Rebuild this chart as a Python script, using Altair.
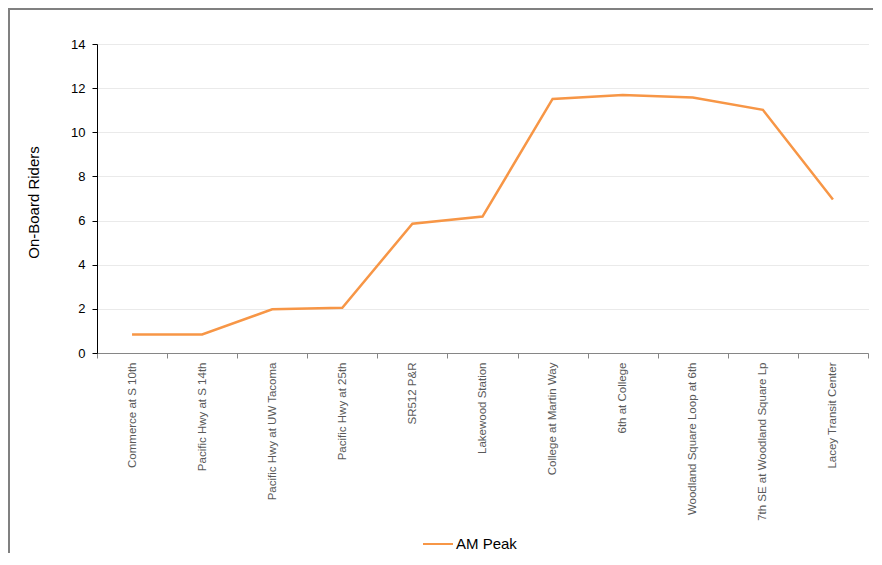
import altair as alt
import pandas as pd

stops = [
    "Commerce at S 10th",
    "Pacific Hwy at S 14th",
    "Pacific Hwy at UW Tacoma",
    "Pacific Hwy at 25th",
    "SR512 P&R",
    "Lakewood Station",
    "College at Martin Way",
    "6th at College",
    "Woodland Square Loop at 6th",
    "7th SE at Woodland Square Lp",
    "Lacey Transit Center",
]
am_peak = [0.84, 0.84, 1.98, 2.05, 5.86, 6.18, 11.51, 11.69, 11.58, 11.02, 6.95]
series_name = "AM Peak"
y_ticks = [0, 2, 4, 6, 8, 10, 12, 14]

df = pd.DataFrame({"Stop": stops, "Riders": am_peak, "Series": [series_name] * len(stops)})
one = pd.DataFrame({"k": [0]})

NARROW = "Liberation Sans Narrow, Arial Narrow, Liberation Sans, Arial"
SANS = "Liberation Sans, Arial"

line = alt.Chart(df).mark_line(strokeWidth=2.5).encode(
    x=alt.X(
        "Stop:N",
        sort=stops,
        bandPosition=0.5,
        scale=alt.Scale(type="band", paddingInner=0, paddingOuter=0),
        axis=alt.Axis(
            title=None,
            labelAngle=270,
            labelFont=NARROW,
            labelFontSize=11.5,
            labelColor="#595959",
            labelPadding=4,
            labelLimit=300,
            tickBand="extent",
            tickSize=5,
            tickColor="#868686",
            domainColor="#868686",
            grid=False,
        ),
    ),
    y=alt.Y(
        "Riders:Q",
        scale=alt.Scale(domain=[0, 14], nice=False),
        axis=alt.Axis(
            values=y_ticks,
            title="On-Board Riders",
            titleFont=SANS,
            titleFontSize=15,
            titleFontWeight="normal",
            titleColor="black",
            titleX=-56,
            titleY=158,
            labelFont=SANS,
            labelFontSize=13,
            labelColor="black",
            labelPadding=7,
            tickSize=5,
            tickColor="black",
            domainColor="black",
            grid=True,
            gridColor="#d4d4d4",
            gridDash=[1, 1],
        ),
    ),
    color=alt.Color(
        "Series:N",
        scale=alt.Scale(domain=[series_name], range=["#F79646"]),
        legend=alt.Legend(
            title=None,
            orient="none",
            legendX=325,
            legendY=484,
            symbolType="stroke",
            symbolSize=900,
            symbolStrokeWidth=2,
            labelFont=SANS,
            labelFontSize=15,
            labelColor="black",
            labelOffset=2,
        ),
    ),
)

left_border = alt.Chart(one).mark_rule(color="#808080", strokeWidth=2).encode(
    x=alt.value(-88), y=alt.value(-36), y2=alt.value(509)
)
top_border = alt.Chart(one).mark_rule(color="#808080", strokeWidth=2).encode(
    x=alt.value(-89), x2=alt.value(777), y=alt.value(-35)
)

chart = (
    alt.layer(line, left_border, top_border)
    .properties(
        width=771,
        height=309,
        autosize=alt.AutoSizeParams(type="none"),
        padding={"left": 89, "top": 36, "right": 5, "bottom": 200},
    )
    .configure_view(stroke=None)
)

chart.save("out.html", embed_options={"renderer": "svg", "actions": False})
